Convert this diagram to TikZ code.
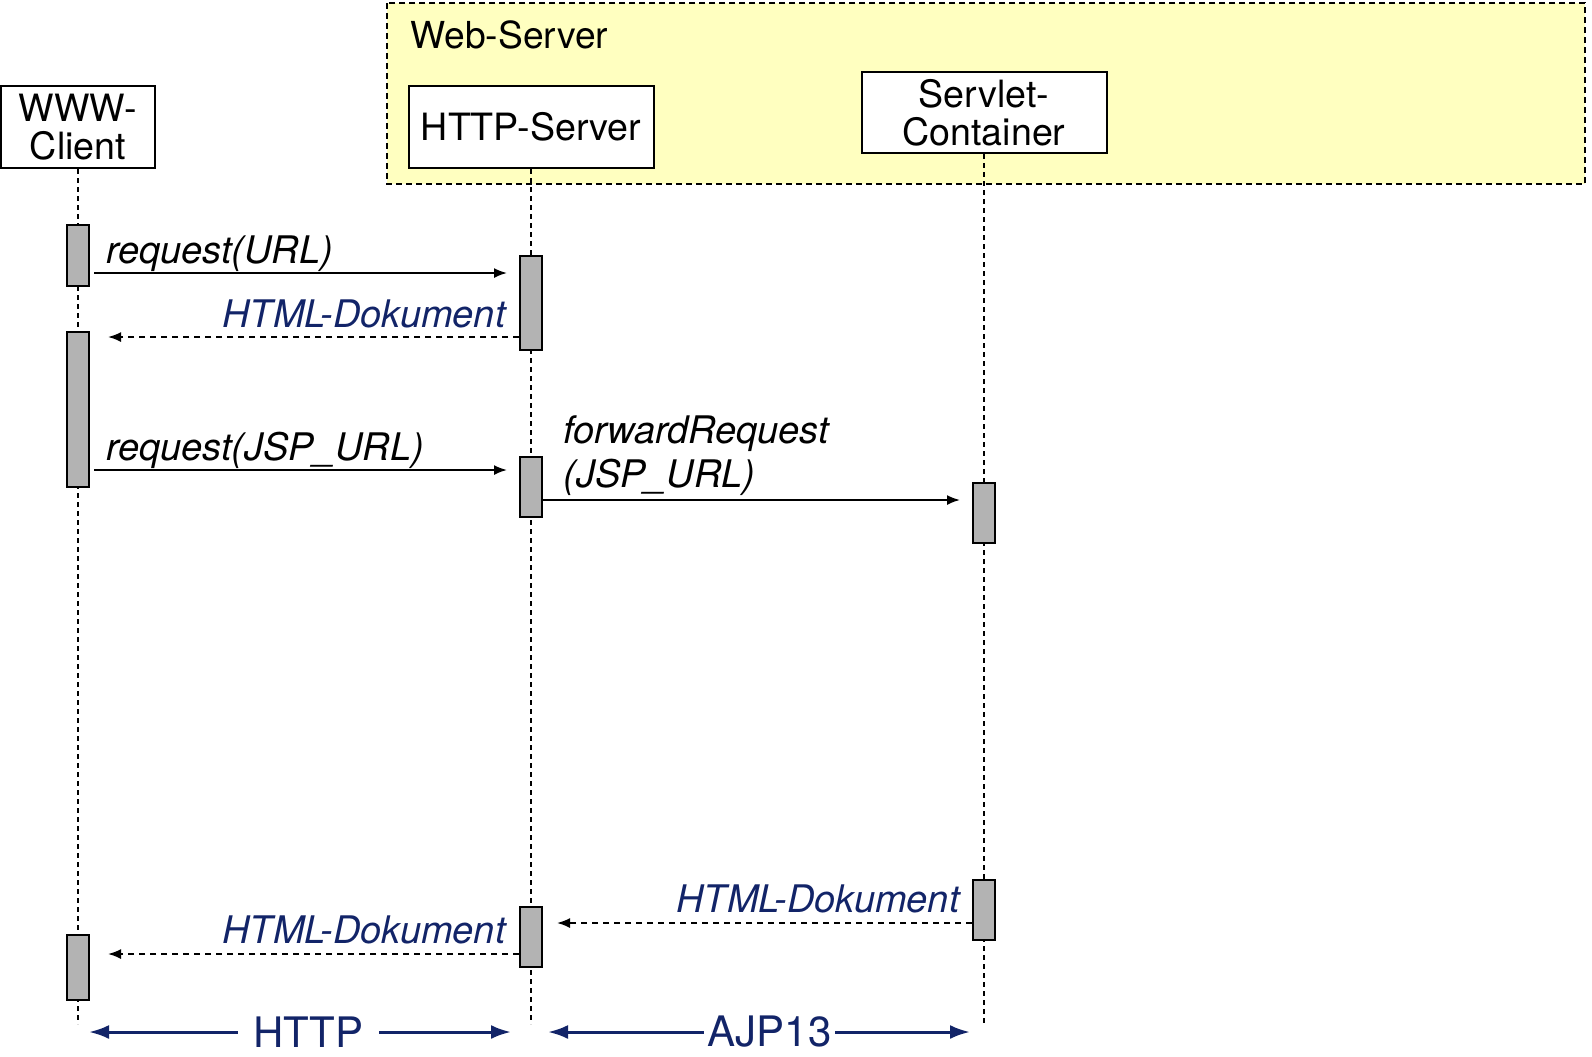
\documentclass[tikz,border=0pt]{standalone}
\usepackage{fontspec}
\setmainfont{TeX Gyre Heros}
\usepackage{tikz}
\usetikzlibrary{arrows.meta}
\usetikzlibrary{positioning}
\definecolor{mnavy}{RGB}{18,36,104}
\definecolor{myellow}{RGB}{255,255,192}
\definecolor{mgray}{RGB}{179,179,179}
\tikzset{obj/.style = {draw, line width=1pt, fill=white, align=center, inner sep=0,
                       font=\fontsize{18.8}{19.2}\selectfont}}
\tikzset{act/.style = {draw, line width=1pt, fill=mgray, minimum width=11pt, inner sep=0}}
\tikzset{life/.style = {line width=0.75pt, dash pattern=on 2.5pt off 2pt}}
\tikzset{msg/.style = {line width=0.9pt, -{Latex[length=6.5pt, width=5pt]}}}
\tikzset{reply/.style = {msg, dash pattern=on 3pt off 2.5pt}}
\tikzset{lbl/.style = {inner sep=0, font=\fontsize{19}{22}\selectfont\itshape}}
\tikzset{span/.style = {mnavy, line width=1.5pt,
                        {Latex[length=10pt, width=7pt]}-{Latex[length=10pt, width=7pt]}}}
\tikzset{spanlbl/.style = {fill=white, text=mnavy, inner xsep=8pt, inner ysep=0,
                           font=\fontsize{21}{24}\selectfont}}

\begin{document}
\begin{tikzpicture}[x=0.5pt, y=-0.5pt]
      \useasboundingbox (0,0) rectangle (1592,1056);

      \draw [fill=myellow, line width=0.75pt, dash pattern=on 3pt off 2pt] (387,3) rectangle (1585,184);
      \node [anchor=base west, inner sep=0, font=\fontsize{18.6}{22}\selectfont] (webl) at (410,48) {Web-Server};

      \node [obj, minimum width=77pt, minimum height=41pt] (client) at (78,127) {WWW-\\Client};
      \node [obj, minimum width=122.5pt, minimum height=41pt] (http) at (531,127) {HTTP-Server};
      \node [obj, minimum width=122.5pt, minimum height=40.5pt] (servlet) at (984,112.5) {Servlet-\\Container};

      \coordinate (bottom) at (0,1024);
      \draw [life] (client.south) -- (client.south |- bottom);
      \draw [life] (http.south) -- (http.south |- bottom);
      \draw [life] (servlet.south) -- (servlet.south |- bottom);

      \node [act, minimum height=30.5pt] (c1) at (78,255.5) {};
      \node [act, minimum height=77.5pt] (c2) at (78,409.5) {};
      \node [act, minimum height=32.5pt] (c3) at (78,967.5) {};
      \node [act, minimum height=47pt] (s1) at (531,303) {};
      \node [act, minimum height=30pt] (s2) at (531,487) {};
      \node [act, minimum height=30pt] (s3) at (531,937) {};
      \node [act, minimum height=30pt] (v1) at (984,513) {};
      \node [act, minimum height=30pt] (v2) at (984,910) {};

      \coordinate (m1) at (0,273);
      \coordinate (m2) at (0,337);
      \coordinate (m3) at (0,470);
      \coordinate (m4) at (0,500);
      \coordinate (m5) at (0,923);
      \coordinate (m6) at (0,954);
      \draw [msg, shorten <=2pt, shorten >=6pt] (c1.east |- m1) -- (s1.west |- m1);
      \draw [reply, shorten >=9pt] (s1.west |- m2) -- (c2.east |- m2);
      \draw [msg, shorten <=2pt, shorten >=6pt] (c2.east |- m3) -- (s2.west |- m3);
      \draw [msg, shorten >=6pt] (s2.east |- m4) -- (v1.west |- m4);
      \draw [reply, shorten >=7pt] (v2.west |- m5) -- (s3.east |- m5);
      \draw [reply, shorten >=9pt] (s3.west |- m6) -- (c3.east |- m6);

      \node [lbl, anchor=base west] (l1) at (106,263) {request(URL)};
      \node [lbl, anchor=base east, text=mnavy] (l2) at (506,327) {HTML-Dokument};
      \node [lbl, anchor=base west] (l3) at (106,460) {request(JSP\_URL)};
      \node [lbl, anchor=south west, align=left] (l4) at (563,496) {forwardRequest\\(JSP\_URL)};
      \node [lbl, anchor=base east, text=mnavy] (l5) at (960,912) {HTML-Dokument};
      \node [lbl, anchor=base east, text=mnavy] (l6) at (506,943) {HTML-Dokument};

      \coordinate (h1) at (89,1032);
      \coordinate (h2) at (511,1032);
      \coordinate (a1) at (548,1032);
      \coordinate (a2) at (970,1032);
      \draw [span] (h1) -- node [spanlbl, pos=0.52] (httpl) {HTTP} (h2);
      \draw [span] (a1) -- node [spanlbl, pos=0.525, inner xsep=2pt] (ajpl) {AJP13} (a2);
    \end{tikzpicture}
\end{document}
